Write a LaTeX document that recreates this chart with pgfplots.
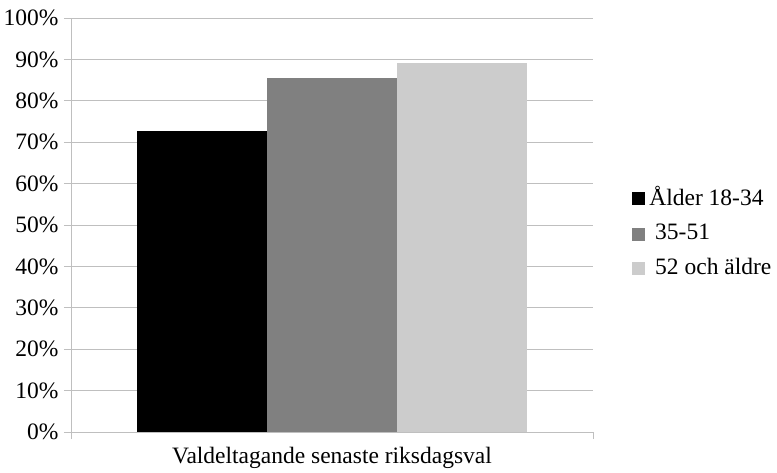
\documentclass[border=0pt]{standalone}
\usepackage{pgfplots}
\pgfplotsset{compat=1.18}
\usepackage{fontspec}
\setmainfont{Liberation Serif}
\definecolor{gridgray}{HTML}{BFBFBF}
\definecolor{midgray}{HTML}{808080}
\definecolor{lightgray}{HTML}{CCCCCC}
\begin{document}
\begin{tikzpicture}[x=1pt,y=1pt]
\path[use as bounding box] (-71,-40) rectangle (706,432);
\begin{axis}[
	at={(0,0)}, anchor=south west,
	scale only axis,
	width=522pt, height=414pt,
	ybar=0pt,
	bar width=0.4985,
	xmin=-1, xmax=1,
	ymin=0, ymax=100,
	ytick={0,10,...,100},
	yticklabel={\pgfmathprintnumber{\tick}\%},
	/pgf/number format/assume math mode=true,
	xtick={-1,1},
	xticklabels={},
	extra x ticks={0},
	extra x tick labels={Valdeltagande senaste riksdagsval},
	extra x tick style={major tick length=0pt, grid=none},
	ymajorgrids,
	grid style={gridgray, line width=0.8pt},
	axis line style={gridgray, line width=0.8pt},
	major tick style={gridgray, line width=0.8pt},
	tick align=outside,
	major tick length=7pt,
	axis x line*=bottom,
	axis y line*=left,
	x axis line style={-},
	y axis line style={-},
	tick label style={font=\fontsize{23.5}{27}\selectfont, text=black},
	yticklabel style={xshift=-2pt},
	xticklabel style={yshift=-12pt},
	legend style={at={(1.075,0.485)}, anchor=west, draw=none, fill=none,
		font=\fontsize{23.5}{27}\selectfont, row sep=13pt,
		inner sep=0pt, legend cell align=left},
	legend image code/.code={\fill[#1] (0pt,-8pt) rectangle (13pt,5pt);
		\path (15pt,0pt);},
]
\addplot[fill=black, draw=none] coordinates {(0,72.7)};
\addlegendentry{Ålder 18-34}
\addplot[fill=midgray, draw=none] coordinates {(0,85.4)};
\addlegendentry{\ 35-51}
\addplot[fill=lightgray, draw=none] coordinates {(0,89.2)};
\addlegendentry{\ 52 och äldre}
\end{axis}
\end{tikzpicture}
\end{document}
